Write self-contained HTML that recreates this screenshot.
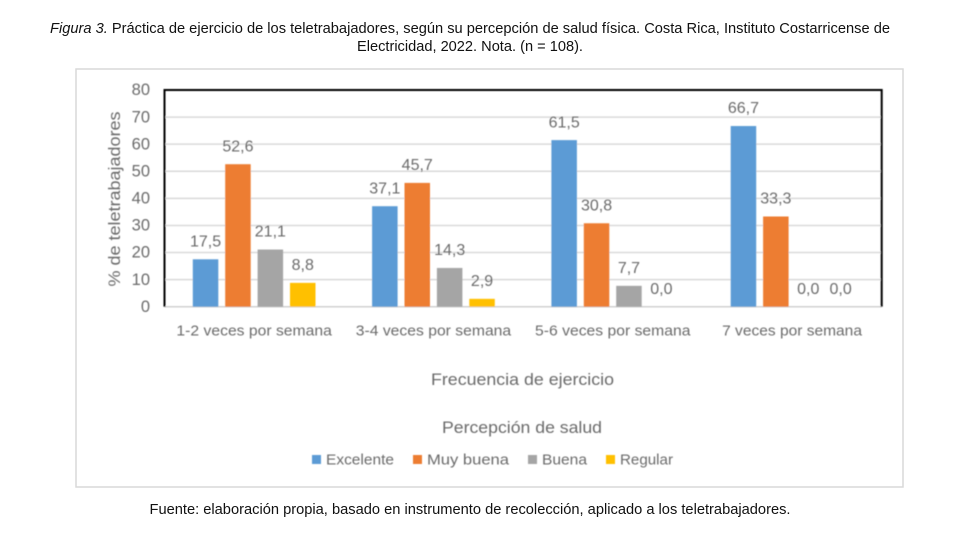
<!DOCTYPE html>
<html lang="es">
<head>
<meta charset="utf-8">
<title>Práctica de ejercicio de los teletrabajadores</title>
<style>
html,body{margin:0;padding:0;background:#fff;width:960px;height:540px;overflow:hidden}
svg{display:block;font-family:"Liberation Sans",sans-serif}
.cap{font-size:14.3px;fill:#111}
.ax{fill:#6b6b6b}
</style>
</head>
<body>
<svg id="chart" width="960" height="540" viewBox="0 0 960 540" xmlns="http://www.w3.org/2000/svg">
  <defs><filter id="soft" x="-5%" y="-5%" width="110%" height="110%"><feGaussianBlur stdDeviation="0.45"/></filter></defs>
  <rect width="960" height="540" fill="#fff"/>
  <text class="cap" x="470" y="33" text-anchor="middle" textLength="840" lengthAdjust="spacingAndGlyphs"><tspan font-style="italic">Figura 3.</tspan> Práctica de ejercicio de los teletrabajadores, según su percepción de salud física. Costa Rica, Instituto Costarricense de</text>
  <text class="cap" x="470" y="51" text-anchor="middle" textLength="226" lengthAdjust="spacingAndGlyphs">Electricidad, 2022. Nota. (n = 108).</text>
  <rect x="76" y="69" width="827" height="418" fill="#fff" stroke="#d9d9d9" stroke-width="1.5"/>
  <g id="plot" filter="url(#soft)"></g>
  <text class="cap" x="470" y="514" text-anchor="middle" textLength="641" lengthAdjust="spacingAndGlyphs">Fuente: elaboración propia, basado en instrumento de recolección, aplicado a los teletrabajadores.</text>
</svg>
<script>
const categories = ["1-2 veces por semana", "3-4 veces por semana", "5-6 veces por semana", "7 veces por semana"];
const seriesNames = ["Excelente", "Muy buena", "Buena", "Regular"];
const excelente = [17.5, 37.1, 61.5, 66.7];
const muyBuena = [52.6, 45.7, 30.8, 33.3];
const buena = [21.1, 14.3, 7.7, 0.0];
const regular = [8.8, 2.9, 0.0, 0.0];
const yTicks = [0, 10, 20, 30, 40, 50, 60, 70, 80];

const seriesValues = [excelente, muyBuena, buena, regular];
const colors = ["#5b9bd5", "#ed7d31", "#a5a5a5", "#ffc000"];
const plotL = 164.5, plotR = 881.7, plotT = 90, plotB = 306.7, yMax = 80;
const barW = 25.5, barStep = 32.4;
const plot = document.getElementById("plot");
const NS = "http://www.w3.org/2000/svg";

function yScale(v) { return plotB - (v / yMax) * (plotB - plotT); }
function groupCenter(i) { return plotL + (i + 0.5) * (plotR - plotL) / categories.length; }
function barX(i, s) { return groupCenter(i) - (seriesNames.length * barStep - (barStep - barW)) / 2 + s * barStep; }
function make(tag, attrs, text) {
  const el = document.createElementNS(NS, tag);
  for (const k in attrs) el.setAttribute(k, attrs[k]);
  if (text !== undefined) el.textContent = text;
  plot.appendChild(el);
  return el;
}
function slug(s) { return s.toLowerCase().replace(/[^a-z0-9]+/g, "-"); }

yTicks.forEach(function (t) {
  if (t > 0 && t < yMax) {
    const g = make("line", { x1: plotL, x2: plotR, y1: yScale(t), y2: yScale(t), stroke: "#d9d9d9", "stroke-width": 1.5 });
    
    
  }
  const lab = make("text", { x: 150, y: yScale(t) + 5.2, "text-anchor": "end", "font-size": 16.5, class: "ax" }, String(t));
  
  
});

const baseline = make("line", { x1: plotL, x2: plotR, y1: plotB, y2: plotB, stroke: "#d0d0d0", "stroke-width": 1.5 });



const border = make("path", { d: "M" + plotL + " " + plotB + "V" + plotT + "H" + plotR + "V" + plotB, fill: "none", stroke: "#000", "stroke-width": 2 });



seriesValues.forEach(function (vals, s) {
  vals.forEach(function (v, i) {
    const bar = make("rect", { x: barX(i, s), y: yScale(v), width: barW, height: plotB - yScale(v), fill: colors[s] });
    
    
    const lab = make("text", { x: barX(i, s) + barW / 2, y: yScale(v) - 12.8, "text-anchor": "middle", "font-size": 16, class: "ax" }, v.toFixed(1).replace(".", ","));
    
    
  });
});

categories.forEach(function (c, i) {
  const lab = make("text", { x: groupCenter(i), y: 335.5, "text-anchor": "middle", "font-size": 14.5, class: "ax", textLength: c.length * 7.77, lengthAdjust: "spacingAndGlyphs" }, c);
  
  
});

const yTitle = make("text", { transform: "translate(120 199) rotate(-90)", "text-anchor": "middle", "font-size": 16.5, class: "ax", textLength: 175, lengthAdjust: "spacingAndGlyphs" }, "% de teletrabajadores");



const xTitle = make("text", { x: 522.5, y: 385, "text-anchor": "middle", "font-size": 16.5, class: "ax", textLength: 183, lengthAdjust: "spacingAndGlyphs" }, "Frecuencia de ejercicio");



const legendTitle = make("text", { x: 522, y: 433, "text-anchor": "middle", "font-size": 16.5, class: "ax", textLength: 160, lengthAdjust: "spacingAndGlyphs" }, "Percepción de salud");



const legendTextWidths = [68, 82, 45, 53];
let legendX = 312;
const legendGap = 19;
seriesNames.forEach(function (n, s) {
  const sq = make("rect", { x: legendX, y: 455, width: 9, height: 9, fill: colors[s] });
  
  
  const w = legendTextWidths[s];
  const t = make("text", { x: legendX + 14, y: 464.5, "font-size": 14.5, class: "ax", textLength: w, lengthAdjust: "spacingAndGlyphs" }, n);
  
  
  legendX += 14 + w + legendGap;
});
</script>
</body>
</html>
